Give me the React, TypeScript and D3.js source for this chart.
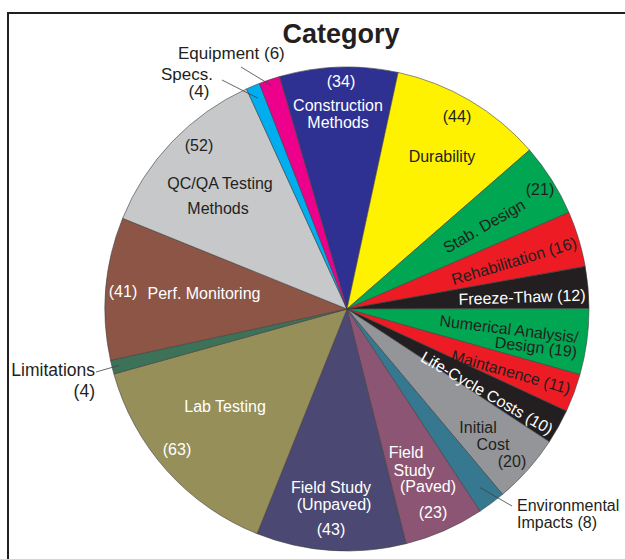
import React from "react";
import * as d3 from "d3";

const categories = [
  "Construction Methods",
  "Durability",
  "Stab. Design",
  "Rehabilitation",
  "Freeze-Thaw",
  "Numerical Analysis/Design",
  "Maintanence",
  "Life-Cycle Costs",
  "Initial Cost",
  "Environmental Impacts",
  "Field Study (Paved)",
  "Field Study (Unpaved)",
  "Lab Testing",
  "Limitations",
  "Perf. Monitoring",
  "QC/QA Testing Methods",
  "Specs.",
  "Equipment",
];
const values = [34, 44, 21, 16, 12, 19, 11, 10, 20, 8, 23, 43, 63, 4, 41, 52, 4, 6];
const colors = [
  "#2e3192", "#fff200", "#00a651", "#ed1c24", "#231f20", "#00a651",
  "#ed1c24", "#231f20", "#939598", "#377891", "#8c5573", "#4b4873",
  "#968f5a", "#3c7358", "#8c5546", "#c7c8ca", "#00aeef", "#ec008c",
];
const title = "Category";

const W = 625, H = 559;
const cx = 347, cy = 309, R = 242;
const startDeg = -16.2;
const DARK = "#231f20";
const WHITE = "#ffffff";
const v = (i: number) => `(${values[i]})`;

// label layout: category index, text, position, rotation, anchor, colour, size
type L = { i: number; t: string; x: number; y: number; r?: number; a?: string; c: string; s?: number; mid?: boolean };
const labels: L[] = [
  { i: 0, t: v(0), x: 341, y: 87, c: WHITE },
  { i: 0, t: "Construction", x: 338, y: 111, c: WHITE },
  { i: 0, t: "Methods", x: 338, y: 128, c: WHITE },
  { i: 1, t: v(1), x: 457, y: 122, c: DARK },
  { i: 1, t: "Durability", x: 442, y: 162, c: DARK },
  { i: 2, t: v(2), x: 540, y: 195, c: DARK },
  { i: 2, t: "Stab. Design", x: 484, y: 226, r: -30, c: DARK, mid: true },
  { i: 3, t: `Rehabilitation ${v(3)}`, x: 514, y: 261, r: -17, c: DARK, mid: true },
  { i: 4, t: `Freeze-Thaw ${v(4)}`, x: 522, y: 297, r: -2, c: WHITE, mid: true },
  { i: 5, t: "Numerical Analysis/", x: 509, y: 329, r: 7, c: DARK, mid: true },
  { i: 5, t: `Design ${v(5)}`, x: 536, y: 347, r: 7, c: DARK, mid: true },
  { i: 6, t: `Maintanence ${v(6)}`, x: 511, y: 372, r: 16, c: DARK, mid: true },
  { i: 7, t: `Life-Cycle Costs ${v(7)}`, x: 487, y: 393, r: 30, c: WHITE, mid: true },
  { i: 8, t: "Initial", x: 478, y: 433, c: DARK },
  { i: 8, t: "Cost", x: 493, y: 450, c: DARK },
  { i: 8, t: v(8), x: 512, y: 467, c: DARK },
  { i: 9, t: "Environmental", x: 517, y: 511, a: "start", c: DARK },
  { i: 9, t: `Impacts ${v(9)}`, x: 517, y: 528, a: "start", c: DARK },
  { i: 10, t: "Field", x: 406, y: 458, c: WHITE },
  { i: 10, t: "Study", x: 414, y: 476, c: WHITE },
  { i: 10, t: "(Paved)", x: 428, y: 492, c: WHITE },
  { i: 10, t: v(10), x: 433, y: 518, c: WHITE },
  { i: 11, t: "Field Study", x: 331, y: 493, c: WHITE },
  { i: 11, t: "(Unpaved)", x: 334, y: 510, c: WHITE },
  { i: 11, t: v(11), x: 331, y: 535, c: WHITE },
  { i: 12, t: "Lab Testing", x: 225, y: 412, c: WHITE },
  { i: 12, t: v(12), x: 177, y: 455, c: WHITE },
  { i: 13, t: "Limitations", x: 95, y: 376, a: "end", c: DARK, s: 17.5 },
  { i: 13, t: v(13), x: 95, y: 397, a: "end", c: DARK, s: 17.5 },
  { i: 14, t: v(14), x: 123, y: 297, c: WHITE },
  { i: 14, t: "Perf. Monitoring", x: 204, y: 299, c: WHITE },
  { i: 15, t: v(15), x: 199, y: 151, c: DARK },
  { i: 15, t: "QC/QA Testing", x: 220, y: 189, c: DARK },
  { i: 15, t: "Methods", x: 218, y: 214, c: DARK },
  { i: 16, t: "Specs.", x: 187, y: 80, c: DARK, s: 17 },
  { i: 16, t: v(16), x: 199, y: 97, c: DARK, s: 17 },
  { i: 17, t: `Equipment ${v(17)}`, x: 178, y: 59, a: "start", c: DARK, s: 17 },
];

// leader lines: category index, outer point, radius fraction for inner end
const leaders = [
  { i: 17, x: 241, y: 67, f: 0.975 },
  { i: 16, x: 222, y: 80, f: 0.945 },
  { i: 13, x: 96, y: 372, f: 0.97 },
  { i: 9, x: 512, y: 506, f: 0.92 },
];

export default function App() {
  const rad = (d: number) => (d * Math.PI) / 180;
  const pie = d3
    .pie<number>()
    .sort(null)
    .value((d) => d)
    .startAngle(rad(startDeg))
    .endAngle(rad(startDeg) + 2 * Math.PI);
  const arcs = pie(values);
  const arc = d3.arc<d3.PieArcDatum<number>>().innerRadius(0).outerRadius(R);

  return (
    <div style={{ position: "absolute", left: 0, top: 0 }}>
      <svg width={W} height={H} style={{ display: "block", fontFamily: "'Liberation Sans', Arial, Helvetica, sans-serif" }}>
        <rect x={0} y={0} width={W} height={H} fill="#fff" />
        <rect x={8} y={13} width={W + 20} height={H + 20} fill="none" stroke={DARK} strokeWidth={2} />
        <text x={341} y={43} textAnchor="middle" fontWeight="bold" fontSize={27} fill={DARK}>
          {title}
        </text>
        <g transform={`translate(${cx},${cy})`}>
          {arcs.map((a, k) => (
            <path key={categories[k]} d={arc(a) || ""} fill={colors[k]} stroke="#414042" strokeWidth={0.6} />
          ))}
        </g>
        {leaders.map((l, k) => {
          const a = arcs[l.i];
          const m = (a.startAngle + a.endAngle) / 2;
          const x2 = cx + Math.sin(m) * R * l.f;
          const y2 = cy - Math.cos(m) * R * l.f;
          return <line key={k} x1={l.x} y1={l.y} x2={x2} y2={y2} stroke="#414042" strokeWidth={0.8} />;
        })}
        {labels.map((l, k) => (
          <text
            key={k}
            transform={`translate(${l.x},${l.y}) rotate(${l.r || 0})`}
            textAnchor={l.a || "middle"}
            dy={l.mid ? "0.35em" : 0}
            fontSize={l.s || 16}
            fill={l.c}
          >
            {l.t}
          </text>
        ))}
      </svg>
    </div>
  );
}
